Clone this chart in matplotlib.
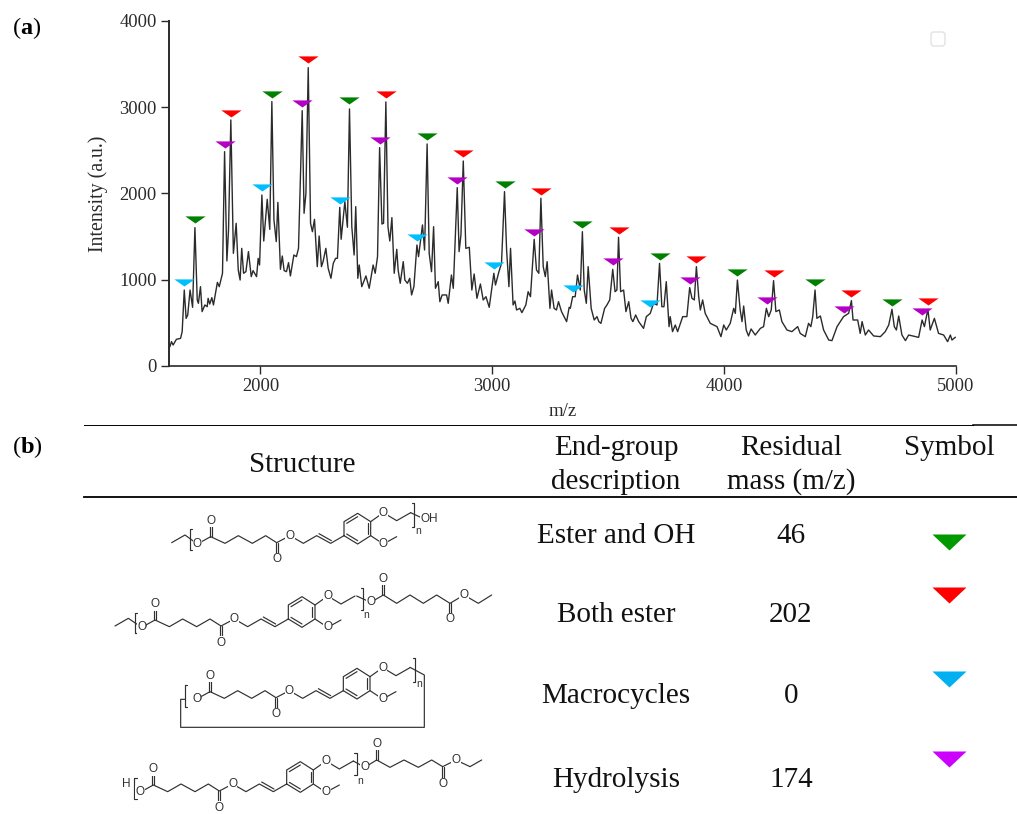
import matplotlib
matplotlib.use('Agg')
import matplotlib.pyplot as plt
from matplotlib.path import Path
from matplotlib.patches import FancyBboxPatch

plt.rcParams['font.family'] = ['Liberation Serif']
plt.rcParams['mathtext.fontset'] = 'custom'
plt.rcParams['mathtext.rm'] = 'Liberation Serif'
plt.rcParams['mathtext.bf'] = 'Liberation Serif:bold'

# spectrum
mz = [1602, 1609, 1616, 1623, 1637, 1655, 1662, 1671, 1679, 1686, 1696, 1707, 1717, 1727, 1732, 1741, 1748, 1760, 1770, 1774,
      1781, 1790, 1797, 1806, 1814, 1822, 1836, 1845, 1855, 1862, 1872, 1883, 1895, 1904, 1912, 1919, 1927, 1937, 1948, 1960,
      1968, 1983, 1990, 1996, 2006, 2014, 2029, 2040, 2049, 2058, 2068, 2075, 2086, 2094, 2102, 2112, 2121, 2129, 2144, 2155,
      2164, 2180, 2188, 2196, 2206, 2216, 2224, 2233, 2245, 2253, 2263, 2270, 2282, 2292, 2304, 2314, 2324, 2332, 2342, 2348,
      2364, 2375, 2384, 2394, 2404, 2411, 2420, 2426, 2437, 2455, 2469, 2486, 2495, 2505, 2514, 2524, 2531, 2541, 2550, 2558,
      2567, 2577, 2588, 2594, 2603, 2616, 2623, 2634, 2644, 2652, 2662, 2675, 2682, 2699, 2708, 2719, 2728, 2738, 2747, 2755,
      2767, 2774, 2784, 2803, 2810, 2824, 2832, 2849, 2857, 2865, 2875, 2886, 2901, 2912, 2922, 2934, 2949, 2961, 2973, 2987,
      3007, 3014, 3029, 3040, 3053, 3062, 3072, 3079, 3090, 3098, 3105, 3119, 3128, 3145, 3155, 3165, 3181, 3191, 3201, 3210,
      3220, 3229, 3237, 3249, 3256, 3267, 3277, 3286, 3299, 3321, 3332, 3337, 3347, 3358, 3368, 3380, 3389, 3397, 3406, 3414,
      3427, 3440, 3452, 3460, 3469, 3485, 3495, 3507, 3520, 3530, 3538, 3545, 3554, 3567, 3577, 3589, 3599, 3607, 3619, 3632,
      3653, 3665, 3682, 3696, 3711, 3722, 3732, 3741, 3751, 3763, 3768, 3778, 3790, 3800, 3822, 3840, 3852, 3862, 3872, 3881,
      3891, 3898, 3908, 3919, 3941, 3970, 3987, 3999, 4010, 4027, 4042, 4049, 4058, 4070, 4078, 4085, 4096, 4106, 4117, 4135,
      4157, 4171, 4183, 4193, 4204, 4214, 4224, 4239, 4250, 4272, 4293, 4318, 4329, 4351, 4365, 4375, 4383, 4393, 4401, 4416,
      4430, 4452, 4466, 4488, 4516, 4538, 4550, 4557, 4577, 4588, 4596, 4610, 4624, 4646, 4675, 4696, 4711, 4725, 4735, 4744,
      4754, 4768, 4783, 4797, 4840, 4855, 4865, 4880, 4890, 4908, 4926, 4948, 4965, 4977, 4984, 4998]
intensity = [205, 224, 282, 243, 309, 320, 398, 880, 552, 591, 880, 680, 1603, 765, 726, 919, 630, 707, 687, 784,
             718, 792, 707, 842, 969, 919, 1074, 2483, 1217, 1576, 2850, 1305, 1653, 1112, 996, 1363, 1074, 1093, 1325, 1035,
             1105, 1035, 1247, 1170, 1981, 1448, 1931, 1583, 3063, 1692, 1441, 1896, 1120, 1274, 1105, 1093, 1197, 1043, 1286, 1267,
             1363, 2958, 1769, 2000, 3456, 1653, 1556, 1699, 1151, 1506, 1151, 1209, 1363, 1132, 1016, 1189, 1247, 1247, 1838, 1468,
             1904, 1607, 2978, 1614, 1286, 1846, 1016, 1170, 919, 1043, 900, 1170, 1074, 1267, 2530, 1645, 1653, 3059, 1614, 1448,
             1719, 1074, 1352, 1112, 958, 1209, 996, 958, 1016, 823, 919, 1402, 1267, 1634, 1344, 2572, 1305, 1093, 1614, 900,
             977, 745, 823, 823, 726, 1054, 900, 2066, 1325, 1518, 2375, 1363, 1375, 880, 1066, 784, 950, 765, 803, 680,
             1074, 938, 1093, 1189, 2020, 1344, 919, 1363, 707, 753, 649, 668, 618, 707, 861, 803, 1468, 1112, 1074, 1943,
             1151, 1035, 1209, 668, 880, 668, 649, 745, 630, 514, 680, 668, 803, 803, 1054, 880, 1556, 880, 726, 1151,
             668, 533, 572, 514, 494, 668, 707, 765, 1120, 861, 880, 1491, 861, 880, 630, 745, 552, 514, 591, 514,
             436, 572, 610, 726, 707, 1189, 687, 687, 977, 456, 572, 398, 475, 398, 572, 572, 908, 784, 765, 1151,
             803, 649, 765, 610, 494, 456, 340, 475, 417, 494, 668, 610, 996, 649, 514, 695, 417, 348, 429, 359,
             436, 456, 668, 572, 649, 989, 630, 649, 514, 417, 398, 456, 378, 340, 494, 456, 572, 880, 552, 579,
             417, 301, 294, 456, 572, 610, 757, 533, 533, 378, 514, 359, 417, 348, 340, 398, 475, 657, 456, 417,
             579, 359, 294, 359, 332, 533, 456, 657, 417, 552, 378, 359, 282, 359, 301, 332]

# end-group markers, x and tip height
ester_oh_x = [1717, 2049, 2384, 2719, 3053, 3389, 3722, 4058, 4393, 4725]
ester_oh_y = [1653, 3109, 3030, 2618, 2058, 1599, 1228, 1043, 927, 699]
both_ester_x = [1872, 2206, 2541, 2875, 3210, 3545, 3881, 4214, 4550, 4880]
both_ester_y = [2889, 3507, 3101, 2421, 1985, 1529, 1189, 1035, 799, 707]
macro_x = [1671, 2006, 2342, 2675, 3007, 3347, 3679]
macro_y = [927, 2028, 1881, 1444, 1120, 855, 680]
hydro_x = [1845, 2180, 2514, 2849, 3181, 3521, 3852, 4184, 4519, 4855]
hydro_y = [2530, 3005, 2572, 2113, 1510, 1166, 954, 718, 610, 587]

x_ticks = [2000, 3000, 4000, 5000]
y_ticks = [0, 1000, 2000, 3000, 4000]

# table text
table_head = ['Structure', 'End-group\ndescription', 'Residual\nmass (m/z)', 'Symbol']
end_groups = ['Ester and OH', 'Both ester', 'Macrocycles', 'Hydrolysis']
residual = ['46', '202', '0', '174']

GREEN = '#008000'
RED = '#ff0000'
BLUE = '#00bfff'
PURPLE = '#b400c4'
INK = '#2a2a2a'

W, H = 1017, 814
fig = plt.figure(figsize=(W/100, H/100), dpi=100)

# pixel overlay for the table and drawn structures
ov = fig.add_axes([0, 0, 1, 1])
ov.set_xlim(0, W)
ov.set_ylim(H, 0)
ov.axis('off')

ax = fig.add_axes([168.5/W, (H-366)/H, (955.7-168.5)/W, (366-20.7)/H])
ax.patch.set_alpha(0)

tri = Path([(-10, 7), (10, 7), (0, 0), (-10, 7)], closed=True)

ax.plot(mz, intensity, color='#2b2b2b', lw=1.0, zorder=2)
for xs, ys, col in [(ester_oh_x, ester_oh_y, GREEN), (both_ester_x, both_ester_y, RED),
                    (macro_x, macro_y, BLUE), (hydro_x, hydro_y, PURPLE)]:
    ax.plot(xs, ys, ls='none', marker=tri, ms=14.6, mfc=col, mew=0, zorder=3, clip_on=False)

ax.set_xlim(1603, 5000)
ax.set_ylim(0, 4000)
ax.set_xticks(x_ticks)
ax.set_yticks(y_ticks)
ax.spines['top'].set_visible(False)
ax.spines['right'].set_visible(False)
ax.spines['left'].set_linewidth(1.4)
ax.spines['bottom'].set_linewidth(1.2)
ax.spines['left'].set_color(INK)
ax.spines['bottom'].set_color(INK)
ax.tick_params(length=5.5, width=1.0, color=INK, labelcolor=INK, labelsize=13.3, pad=3)

ov.text(98.5, 193.5, 'Intensity (a.u.)', rotation=90, ha='center', va='center', fontsize=14.3, color=INK)
ov.text(563, 412, 'm/z', ha='center', va='center', fontsize=13.5, color=INK)

# empty legend box
ov.add_patch(FancyBboxPatch((931, 32), 14, 14, boxstyle='round,pad=0,rounding_size=3',
                            fc='white', ec='#e2e2e2', lw=1))

ov.text(27, 28, r'($\mathbf{a}$)', ha='center', va='center', fontsize=17.5, color='black')
ov.text(27, 447, r'($\mathbf{b}$)', ha='center', va='center', fontsize=17.5, color='black')

# table rules
ov.plot([84, 973], [425.4, 425.4], color='black', lw=0.7)
ov.plot([973, 1017], [424.9, 424.9], color='black', lw=1.1)
ov.plot([84, 1017], [496.6, 496.6], color='black', lw=1.3)

TFS = 21
ov.text(302, 465, table_head[0], ha='center', va='center', fontsize=TFS, color='#111111')
ov.text(616, 465, table_head[1], ha='center', va='center', fontsize=TFS, linespacing=1.36, color='#111111')
ov.text(791, 465, table_head[2], ha='center', va='center', fontsize=TFS, linespacing=1.36, color='#111111')
ov.text(949, 448, table_head[3], ha='center', va='center', fontsize=TFS, color='#111111')

row_y = [536, 615, 696, 780]
for y, g, r in zip(row_y, end_groups, residual):
    ov.text(616, y, g, ha='center', va='center', fontsize=TFS, color='#111111')
    ov.text(791, y, r, ha='center', va='center', fontsize=TFS, color='#111111')

# legend triangles in the table
big = Path([(-17, 8), (17, 8), (0, -8), (-17, 8)], closed=True)
for y, col in zip([542, 594.5, 679, 759], ['#009900', RED, '#00b0f0', '#cc00ff']):
    ov.plot([949], [y], ls='none', marker=big, ms=24.5, mfc=col, mew=0)

# structures, coordinates in 1/3 pixel steps from a local origin
Z3 = (90, 490)
Z4 = (90, 650)
BOND = dict(color='#303030', lw=0.85, solid_capstyle='round', zorder=4)


def seg(org, pts, dx=0, dy=0):
    ov.plot([org[0] + (p[0] + dx)/3 for p in pts], [org[1] + (p[1] + dy)/3 for p in pts], **BOND)


def atom(org, x, y, s, dx=0, dy=0):
    ov.text(org[0] + (x + dx)/3, org[1] + (y + dy)/3, s, ha='center', va='center', fontsize=8.5,
            family='Liberation Sans', color='#303030', zorder=5,
            bbox=dict(fc='white', ec='none', pad=0.2))


def sub_n(org, x, y):
    # repeat-unit n under a closing bracket
    ov.text(org[0] + x/3, org[1] + y/3, 'n', ha='center', va='center', fontsize=7.5,
            family='Liberation Sans', color='#303030', zorder=6)


def dbl(org, a, b):
    # C=O, two short parallel lines
    seg(org, [(a[0]-3, a[1]), (b[0]-3, b[1])])
    seg(org, [(a[0]+3, a[1]), (b[0]+3, b[1])])
    atom(org, b[0], b[1], 'O')


def bracket(org, x, y0, y1, side):
    seg(org, [(x + side*7, y0), (x, y0), (x, y1), (x + side*7, y1)])


def monomer(org, cx, cy):
    seg(org, [(-40, 22), (0, 0), (43, 20), (83, -3), (125, 20), (165, -3), (198, 18), (238, -3),
              (278, 20), (318, -3), (360, 20), (400, -3)], cx, cy)
    seg(org, [(325, -9), (362, 12)], cx, cy)
    seg(org, [(400, -3), (400, -45), (441, -70), (480, -45), (480, -3), (441, 22), (400, -3)], cx, cy)
    seg(org, [(408, -40), (441, -60)], cx, cy)
    seg(org, [(472, -40), (472, -8)], cx, cy)
    seg(org, [(441, 12), (408, -8)], cx, cy)
    seg(org, [(480, -45), (518, -72), (558, -48), (600, -72)], cx, cy)
    seg(org, [(480, -3), (518, 22), (558, 0)], cx, cy)
    dbl(org, (cx, cy), (cx, cy - 47))
    dbl(org, (cx + 198, cy + 18), (cx + 198, cy + 68))
    atom(org, -40, 22, 'O', cx, cy)
    atom(org, 238, -3, 'O', cx, cy)
    atom(org, 518, -72, 'O', cx, cy)
    atom(org, 518, 22, 'O', cx, cy)


# ester and OH
monomer(Z3, 362, 140)
seg(Z3, [(245, 158), (285, 135), (322, 162)])
atom(Z3, 322, 162, 'O')
bracket(Z3, 300, 118, 180, 1)
bracket(Z3, 972, 40, 110, -1)
sub_n(Z3, 983, 124)
seg(Z3, [(962, 68), (992, 82)])
atom(Z3, 1018, 86, 'OH')

# both ester
monomer(Z3, 195, 390)
seg(Z3, [(75, 408), (115, 385), (155, 412)])
atom(Z3, 155, 412, 'O')
bracket(Z3, 135, 370, 430, 1)
bracket(Z3, 820, 295, 360, -1)
sub_n(Z3, 828, 376)
seg(Z3, [(800, 318), (842, 337), (880, 315), (920, 340), (960, 315), (1000, 340), (1040, 315), (1080, 340),
         (1122, 315), (1165, 340), (1205, 315)])
atom(Z3, 842, 337, 'O')
atom(Z3, 1122, 315, 'O')
dbl(Z3, (880, 315), (880, 267))
dbl(Z3, (1080, 340), (1080, 388))

# macrocycle
monomer(Z4, 360, 125)
atom(Z4, 320, 147, 'O')
bracket(Z4, 285, 105, 170, 1)
bracket(Z4, 975, 25, 97, -1)
sub_n(Z4, 988, 102)
seg(Z4, [(285, 148), (272, 148), (272, 232), (1003, 232), (1003, 75), (960, 52)])

# hydrolysis
monomer(Z4, 190, 405)
atom(Z4, 110, 403, 'H')
atom(Z4, 150, 427, 'O')
bracket(Z4, 133, 385, 447, 1)
bracket(Z4, 800, 310, 375, -1)
sub_n(Z4, 811, 392)
seg(Z4, [(790, 333), (824, 352), (860, 330), (900, 352), (942, 330), (985, 352), (1025, 330), (1058, 350),
         (1098, 330), (1140, 350), (1175, 330)])
atom(Z4, 824, 352, 'O')
atom(Z4, 1098, 330, 'O')
dbl(Z4, (860, 330), (860, 282))
dbl(Z4, (1058, 350), (1058, 402))

plt.savefig('out.png', dpi=100)
